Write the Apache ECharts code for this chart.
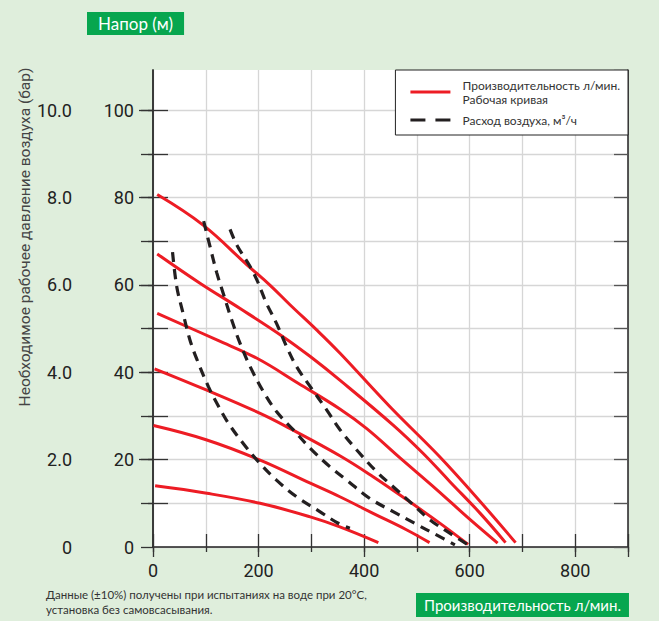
<!DOCTYPE html>
<html>
<head>
<meta charset="utf-8">
<script src="https://cdn.jsdelivr.net/npm/echarts@6/dist/echarts.min.js"></script>
<style>
html,body{margin:0;padding:0;background:#dfeedc;}
#chart{width:659px;height:621px;}
</style>
</head>
<body>
<div id="chart"></div>
<script>
// ---- data (flow l/min, head m) ----
const xLabels = [0, 200, 400, 600, 800];
const yLabelsM = [0, 20, 40, 60, 80, 100];
const yLabelsBar = [0, 2, 4, 6, 8, 10];

const redCurve1 = [[8,80.7],[95,73.7],[178,64.6],[222,59.9],[260,55.4],[310,49.7],[354,44.4],[449,32.1],[557,18.9],[687,1.0]];
const redCurve2 = [[8,67.1],[89,60.4],[165,54.6],[247,48.1],[298,43.6],[354,38.2],[455,27.9],[512,21.4],[563,14.9],[620,7.7],[668,1.0]];
const redCurve3 = [[8,53.5],[121,47.4],[197,43.2],[275,37.5],[354,31.6],[405,27.1],[468,20.4],[538,13.1],[595,6.9],[653,0.9]];
const redCurve4 = [[3,40.8],[102,35.9],[203,30.6],[260,27.1],[354,20.9],[417,16.1],[481,10.8],[544,5.4],[597,0.6]];
const redCurve5 = [[1,27.8],[102,24.5],[203,19.9],[298,14.6],[354,11.5],[417,7.7],[481,3.9],[524,1.0]];
const redCurve6 = [[4,14.0],[102,12.3],[203,10.0],[298,6.9],[354,4.6],[427,1.0]];

const airCurve45  = [[37,67.5],[45,59.6],[57,53.5],[70,47.4],[83,43.0],[105,36.7],[121,32.9],[143,28.3],[171,23.7],[197,19.9],[234,15.3],[272,11.5],[316,8.1],[350,5.5],[373,4.3]];
const airCurve85  = [[96,74.6],[108,68.8],[121,62.7],[133,58.1],[149,52.0],[165,46.6],[184,41.3],[209,35.6],[234,31.0],[266,26.8],[298,22.6],[335,18.4],[367,15.3],[411,11.1],[455,8.1],[496,5.4],[538,2.7],[572,0.5]];
const airCurve119 = [[146,72.7],[159,69.1],[184,64.2],[197,61.1],[215,55.8],[234,51.2],[253,45.9],[272,41.3],[298,36.7],[329,31.4],[354,26.9],[389,21.8],[424,17.2],[455,13.8],[490,10.0],[525,6.2],[563,3.1],[597,0.5]];
const airLabels = ['45', '85', '119'];

const redCurves = [redCurve1, redCurve2, redCurve3, redCurve4, redCurve5, redCurve6];
const airCurves = [airCurve45, airCurve85, airCurve119];

// ---- style ----
const RED = '#ed1c24';
const DARK = '#231f20';
const GREEN = '#07a64f';
const NARROW = 'Roboto,sans-serif';
const ROUND = 'Lato,"Noto Sans",sans-serif';
const Y_MAX = 109.2;
const BAR_MAX = Y_MAX / 10;
const NAME_RED = 'Производительность л/мин.\nРабочая кривая';
const NAME_AIR = 'Расход воздуха, м³/ч';

const chart = echarts.init(document.getElementById('chart'), null, {renderer: 'svg'});

const series = [];
redCurves.forEach(c => series.push({
  name: NAME_RED, type: 'line', data: c, symbol: 'none', smooth: 0.4,
  lineStyle: {color: RED, width: 3}, itemStyle: {color: RED}, z: 3
}));
airCurves.forEach((c, i) => series.push({
  name: NAME_AIR, type: 'line', symbol: 'none', smooth: 0.35,
  data: c.map((p, j) => j === 0 ? {value: p, label: {show: true, formatter: airLabels[i], position: 'top', distance: 2,
    fontFamily: NARROW, fontSize: 17, color: '#222'}} : p),
  lineStyle: {color: DARK, width: 3.2, type: [10, 7]}, itemStyle: {color: DARK}, z: 4
}));

const tickColor = '#333';
const option = {
  backgroundColor: '#dfeedc',
  animation: false,
  title: [
    {text: 'Напор (м)', left: 87, top: 12, padding: [2, 11, 2, 11], backgroundColor: GREEN,
      textStyle: {color: '#fff', fontFamily: ROUND, fontSize: 17, fontWeight: 'normal', lineHeight: 19}},
    {text: 'Производительность л/мин.', left: 416, top: 593, padding: [2, 8, 2, 8], backgroundColor: GREEN,
      textStyle: {color: '#fff', fontFamily: ROUND, fontSize: 15, fontWeight: 'normal', lineHeight: 20}},
    {text: 'Данные (±10%) получены при испытаниях на воде при 20°С,\nустановка без самовсасывания.', left: 46, top: 587, padding: 0,
      textStyle: {color: '#333', fontFamily: ROUND, fontSize: 11.5, fontWeight: 'normal', lineHeight: 15}}
  ],
  legend: {
    orient: 'vertical', right: 31, top: 70,
    itemWidth: 40, itemHeight: 3, itemGap: 7,
    padding: [8, 8, 8, 15],
    backgroundColor: '#fff', borderColor: '#222', borderWidth: 1,
    textStyle: {color: '#333', fontFamily: ROUND, fontSize: 12, lineHeight: 14, padding: [0, 0, 0, 7]},
    data: [
      {name: NAME_RED, icon: 'path://M0,0h40v3h-40z'},
      {name: NAME_AIR, icon: 'path://M0,0h15v3h-15z M25,0h15v3h-15z'}
    ]
  },
  graphic: [
    {type: 'text', x: 25, y: 237, rotation: Math.PI / 2,
      style: {text: 'Необходимое рабочее давление воздуха (бар)', fill: '#444', font: '15.5px ' + NARROW,
        align: 'center', verticalAlign: 'middle'}}
  ],
  grid: {left: 153, right: 31, top: 70, bottom: 74, show: true, backgroundColor: '#fff', borderWidth: 0},
  xAxis: [
    {type: 'value', position: 'bottom', min: 0, max: 900, interval: 100,
      axisLine: {show: false},
      axisTick: {show: true, inside: true, length: 13, lineStyle: {color: tickColor, width: 1.3}},
      axisLabel: {margin: 14, color: '#222', fontFamily: NARROW, fontSize: 18,
        formatter: v => xLabels.includes(v) ? String(v) : ''},
      splitLine: {show: true, lineStyle: {color: '#d6d6d6', width: 1.3}}},
    {type: 'value', position: 'bottom', min: 0, max: 900, interval: 100,
      axisLine: {show: false}, axisLabel: {show: false}, splitLine: {show: false},
      axisTick: {show: true, inside: false, length: 5, lineStyle: {color: tickColor, width: 1.3}}},
    {type: 'value', position: 'bottom', min: 0, max: 900, interval: 200,
      axisLine: {show: false}, axisLabel: {show: false}, splitLine: {show: false},
      axisTick: {show: true, inside: false, length: 10, lineStyle: {color: tickColor, width: 1.3}}},
    {type: 'value', position: 'top', min: 0, max: 900,
      axisLine: {show: true, lineStyle: {color: '#222', width: 1.5}},
      axisTick: {show: false}, axisLabel: {show: false}, splitLine: {show: false}}
  ],
  yAxis: [
    {type: 'value', position: 'left', min: 0, max: Y_MAX, interval: 10,
      axisLine: {show: true, lineStyle: {color: '#222', width: 1.5}},
      axisTick: {show: true, length: 12, lineStyle: {color: tickColor, width: 1.3},
        customValues: [0,10,20,30,40,50,60,70,80,90,100]},
      axisLabel: {margin: 19, color: '#222', fontFamily: NARROW, fontSize: 18,
        formatter: v => yLabelsM.includes(v) ? String(v) : ''},
      splitLine: {show: true, lineStyle: {color: '#d6d6d6', width: 1.3}}},
    {type: 'value', position: 'left', offset: 61, min: 0, max: BAR_MAX, interval: 1,
      axisLine: {show: true, lineStyle: {color: '#333', width: 1.5}},
      axisTick: {show: true, length: 5, lineStyle: {color: tickColor, width: 1.3},
        customValues: [1,2,3,4,5,6,7,8,9,10]},
      axisLabel: {margin: 20, color: '#222', fontFamily: NARROW, fontSize: 18,
        formatter: v => yLabelsBar.includes(v) ? (v === 0 ? '0' : v.toFixed(1)) : ''},
      splitLine: {show: false}},
    {type: 'value', position: 'left', offset: 61, min: 0, max: BAR_MAX, interval: 2,
      axisLine: {show: false}, axisLabel: {show: false}, splitLine: {show: false},
      axisTick: {show: true, length: 14, lineStyle: {color: tickColor, width: 1.3},
        customValues: [2,4,6,8,10]}},
    {type: 'value', position: 'left', offset: 61, min: 0, max: BAR_MAX, interval: 1,
      axisLine: {show: false}, axisLabel: {show: false}, splitLine: {show: false},
      axisTick: {show: true, inside: true, length: 15, lineStyle: {color: tickColor, width: 1.3},
        customValues: [1,2,3,4,5,6,7,8,9,10]}},
    {type: 'value', position: 'right', min: 0, max: Y_MAX, interval: 10,
      axisLine: {show: true, lineStyle: {color: '#222', width: 1.5}},
      axisTick: {show: true, inside: true, length: 14, lineStyle: {color: '#555', width: 1.3}},
      axisLabel: {show: false}, splitLine: {show: false}}
  ],
  series: series
};
chart.setOption(option);
</script>
</body>
</html>
